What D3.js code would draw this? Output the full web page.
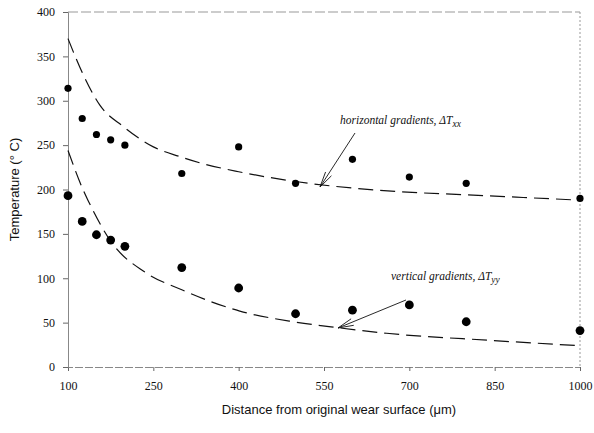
<!DOCTYPE html>
<html><head><meta charset="utf-8">
<script src="https://cdn.jsdelivr.net/npm/d3@7"></script>
<style>body{margin:0;background:#fff}svg{display:block}</style>
</head><body><svg id="c" width="594" height="433"></svg>
<script>
const distances = [100,125,150,175,200,300,400,500,600,700,800,1000];
const horizontalT = [314,280,262,256,250,218,248,207,234,214,207,190];
const verticalT = [193,164,149,143,136,112,89,60,64,70,51,41];
const hFitX = [100,127,156,197,250,297,332,400,500,648,800,900,1000];
const hFitY = [370,329,295,271,248,237,230,220,209,199,194,191,188];
const vFitX = [100,127,135,177,235,300,402,496,578,660,842,1000];
const vFitY = [244,199,188,140,107,87,63,51,44,38,30,24];
const xTicks = [100,250,400,550,700,850,1000];
const yTicks = [0,50,100,150,200,250,300,350,400];

const svg = d3.select('#c');
const m = {l:68, r:14, t:12, b:66};
const W = 594, H = 433;
const x = d3.scaleLinear().domain([100,1000]).range([m.l, W-m.r]);
const y = d3.scaleLinear().domain([0,400]).range([H-m.b, m.t]);
const serif = '"Liberation Serif", "Times New Roman", serif';
const sans = '"Liberation Sans", Arial, sans-serif';

// frame
svg.append('line').attr('x1',x(100)).attr('x2',x(1000)).attr('y1',y(400)).attr('y2',y(400))
  .attr('stroke','#999').attr('stroke-dasharray','10,3');
svg.append('line').attr('x1',x(1000)).attr('x2',x(1000)).attr('y1',y(400)).attr('y2',y(0))
  .attr('stroke','#999').attr('stroke-dasharray','2,2');

const xa = svg.append('g').attr('transform',`translate(0,${y(0)})`)
  .call(d3.axisBottom(x).tickValues(xTicks).tickSize(4).tickPadding(10).tickFormat(d3.format('d')));
const ya = svg.append('g').attr('transform',`translate(${x(100)},0)`)
  .call(d3.axisLeft(y).tickValues(yTicks).tickSize(5).tickPadding(8).tickFormat(d3.format('d')));
[xa,ya].forEach(a=>{
  a.attr('font-family',null).attr('font-size',null);
  a.select('.domain').attr('stroke','#888');
  a.selectAll('.tick line').attr('stroke','#666');
  a.selectAll('text').style('font-family',serif).style('font-size','12px').attr('fill','#111');
});
xa.select('.domain').attr('stroke-dasharray','8,2');

// fitted curves
const line = d3.line().x(d=>x(d[0])).y(d=>y(d[1])).curve(d3.curveMonotoneX);
svg.append('path').attr('d',line(d3.zip(hFitX,hFitY))).attr('fill','none')
  .attr('stroke','#111').attr('stroke-width',1.2).attr('stroke-dasharray','15,7');
svg.append('path').attr('d',line(d3.zip(vFitX,vFitY))).attr('fill','none')
  .attr('stroke','#111').attr('stroke-width',1.2).attr('stroke-dasharray','15,7');

// points
svg.append('g').selectAll('circle').data(d3.zip(distances,horizontalT)).join('circle')
  .attr('cx',d=>x(d[0])).attr('cy',d=>y(d[1])).attr('r',3.6).attr('fill','#000');
svg.append('g').selectAll('circle').data(d3.zip(distances,verticalT)).join('circle')
  .attr('cx',d=>x(d[0])).attr('cy',d=>y(d[1])).attr('r',4.4).attr('fill','#000');

// annotations
function arrow(x1,y1,x2,y2){
  const g = svg.append('g').attr('stroke','#111').attr('stroke-width',0.9);
  g.append('line').attr('x1',x1).attr('y1',y1).attr('x2',x2).attr('y2',y2);
  const ang = Math.atan2(y1-y2,x1-x2), L=16;
  [-0.22,0.22].forEach(da=>{
    g.append('line').attr('x1',x2).attr('y1',y2)
      .attr('x2',x2+L*Math.cos(ang+da)).attr('y2',y2+L*Math.sin(ang+da));
  });
}
function label(tx,ty,main,sub){
  const t = svg.append('text').attr('x',tx).attr('y',ty).style('font-family',serif)
    .attr('font-style','italic').attr('font-size',11.5).attr('fill','#111');
  t.append('tspan').text(main);
  t.append('tspan').attr('dy',3).attr('font-size',9.5).text(sub);
}
label(340,124,'horizontal gradients, ΔT','xx');
arrow(355,133,320,187);
label(391,280,'vertical gradients, ΔT','yy');
arrow(406,300,338,328);

// axis titles
svg.append('text').attr('x',339).attr('y',414).attr('text-anchor','middle')
  .style('font-family',sans).attr('font-size',13).attr('fill','#111')
  .text('Distance from original wear surface (μm)');
svg.append('text').attr('transform',`translate(19,${(y(0)+y(400))/2}) rotate(-90)`)
  .attr('text-anchor','middle').style('font-family',sans).attr('font-size',13).attr('fill','#111')
  .text('Temperature (° C)');
</script></body></html>
